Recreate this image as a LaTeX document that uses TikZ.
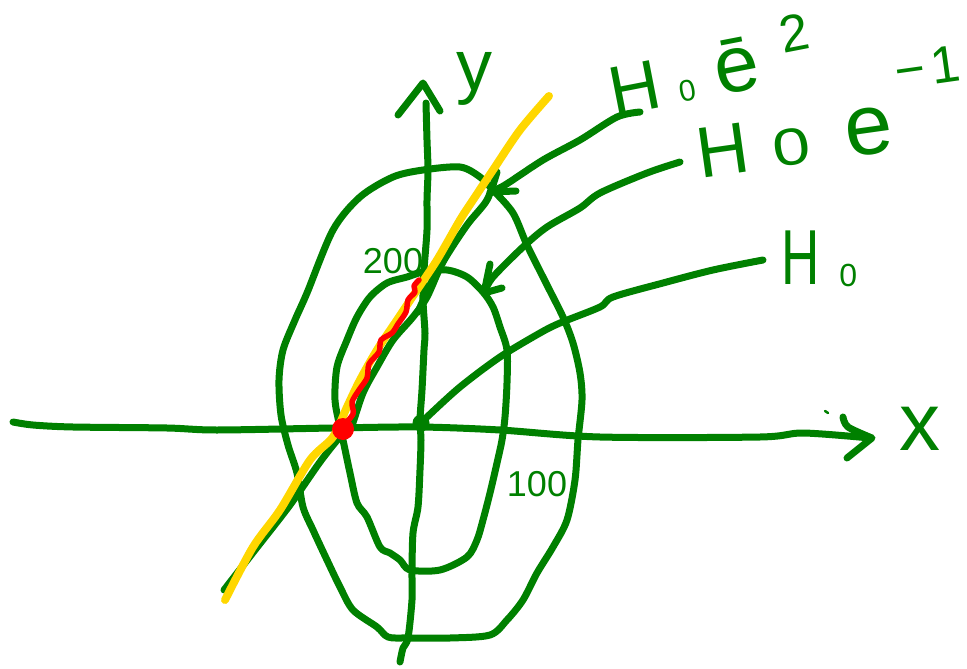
\documentclass[tikz,border=0pt]{standalone}
\usepackage{fontspec}
\setmainfont{Liberation Sans}
\definecolor{penGreen}{RGB}{0,128,0}
\definecolor{hiYellow}{RGB}{255,215,0}
\definecolor{penRed}{RGB}{255,0,0}
\begin{document}
\begin{tikzpicture}[x=1pt,y=-1pt,
  gstroke/.style={draw=penGreen, line width=7pt, line cap=round, line join=round},
  ystroke/.style={draw=hiYellow, line width=8pt, line cap=round, line join=round},
  rstroke/.style={draw=penRed, line width=5.5pt, line cap=round, line join=round},
  lbl/.style={text=penGreen, inner sep=0pt, outer sep=0pt},
  sm/.style={smooth, tension=0.5}]
\useasboundingbox (0,0) rectangle (967,669);

% x axis
\draw[gstroke] plot[sm] coordinates {(13,422) (33,425) (73,427) (167,428) (217,430) (333,428) (420,427) (500,430) (600,437) (760,437) (803,433) (870,438)};
\draw[gstroke] plot[sm] coordinates {(843,417) (848,427) (872,438)} -- (847,458);
\draw[draw=penGreen, line width=2.5pt, line cap=round] (825,411) -- (828,413);
\node[lbl, anchor=base] (xl) at (920,450) {\fontsize{82}{82}\selectfont x};

% y axis
\draw[gstroke] plot[sm] coordinates {(400,662) (403,648) (408,638) (412,600) (412,573) (413,533) (418,507) (420,470) (421,440) (420,420) (422,390) (424,350) (425,333) (423,300) (424,270) (427,230) (427,200) (428,170) (427,140) (426,103)};
\draw[gstroke] (398,115) -- (423,83) -- (440,111);
\node[lbl, anchor=base] (yl) at (474,91) {\fontsize{72}{72}\selectfont y};

% outer contour
\draw[gstroke] plot[smooth cycle, tension=0.5] coordinates {(423,170) (460,167) (480,177) (493,190) (513,213) (527,245) (547,285) (563,317) (573,343) (580,373) (582,400) (578,440) (575,480) (567,520) (553,547) (537,573) (523,600) (507,620) (490,635) (450,638) (407,638) (388,637) (377,627) (353,610) (340,587) (327,560) (313,530) (303,507) (297,473) (288,445) (281,415) (279,380) (283,350) (295,320) (307,293) (333,230) (360,197) (393,177)};

% inner contour
\draw[gstroke] plot[smooth cycle, tension=0.5] coordinates {(423,272) (447,270) (467,277) (483,292) (493,307) (500,327) (507,350) (507,383) (505,417) (502,440) (497,463) (490,493) (483,520) (477,540) (467,557) (440,570) (410,570) (400,560) (390,553) (380,547) (367,517) (357,503) (350,473) (343,440) (340,427) (335,400) (337,367) (347,340) (357,317) (370,297) (387,283) (407,277)};

% green tangent line
\draw[gstroke] plot[sm] coordinates {(224,590) (255,550) (290,505) (320,462) (340,437) (350,430) (363,393) (377,367) (393,340) (413,317) (427,297) (443,262) (467,225) (487,200) (497,172)};
\draw[gstroke] plot[sm] coordinates {(418,312) (430,285) (442,262)};

% leader lines
\draw[gstroke] plot[sm] coordinates {(640,112) (617,117) (580,140) (543,160) (505,185) (492,191)};
\draw[gstroke] (490,192) -- (516,191);
\draw[gstroke] plot[sm] coordinates {(680,162) (647,173) (600,193) (580,208) (547,227) (523,247) (493,277) (485,291)};
\draw[gstroke] (490,264) -- (484,293) -- (502,288);
\draw[gstroke] plot[sm] coordinates {(763,260) (713,270) (663,283) (613,297) (600,307) (560,323) (540,333) (500,357) (460,387) (427,417) (421,423)};
\fill[penGreen] (421,423) circle (8.5);

% yellow line
\draw[ystroke] plot[sm] coordinates {(225,600) (253,547) (280,510) (310,460) (333,437) (347,407) (360,380) (377,350) (397,320) (417,290) (437,260) (460,220) (473,200) (493,170) (520,130) (549,96)};

% red path
\draw[rstroke] plot[sm] coordinates {(342,427) (353,414) (352,402) (359,390) (367,378) (369,364) (379,352) (381,340) (392,333) (398,324) (406,312) (408,300) (415,292) (414,286) (419,280)};
\fill[penRed] (343,429) circle (11);

% numbers
\node[lbl, anchor=base] (n200) at (393,273) {\fontsize{36}{36}\selectfont 200};
\node[lbl, anchor=base] (n100) at (537,496) {\fontsize{36}{36}\selectfont 100};

% labels
\node[lbl, anchor=base west, rotate=11] (la) at (614,116) {\fontsize{70}{70}\selectfont H\hspace{18pt}{\fontsize{30}{30}\selectfont 0}\hspace{22pt}{\fontsize{80}{80}\selectfont ē}\hspace{27pt}\raisebox{29pt}{\fontsize{52}{52}\selectfont 2}};
\node[lbl, anchor=base west, rotate=8] (lb) at (700,178) {\fontsize{72}{72}\selectfont H\hspace{24pt}\scalebox{1.3}[1]{\fontsize{52}{52}\selectfont 0}\hspace{36pt}{\fontsize{86}{86}\selectfont e}\hspace{10pt}\raisebox{60pt}{\fontsize{52}{52}\selectfont −\hspace{6pt}1}};
\node[lbl, anchor=base west] (lc) at (781,284) {\scalebox{0.68}[1]{\fontsize{78}{78}\selectfont H}\hspace{20pt}\raisebox{-2pt}{\fontsize{32}{32}\selectfont 0}};
\end{tikzpicture}
\end{document}
